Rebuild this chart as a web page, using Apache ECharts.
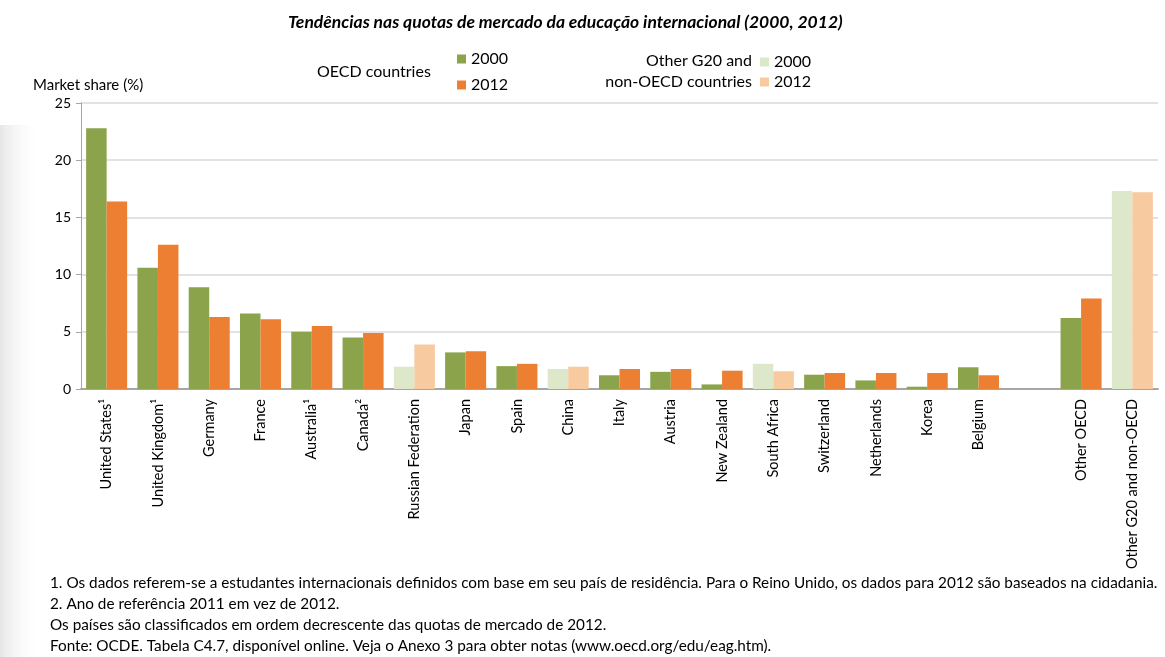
<!DOCTYPE html>
<html><head><meta charset="utf-8">
<script src="https://cdn.jsdelivr.net/npm/echarts@6/dist/echarts.min.js"></script>
<style>html,body{margin:0;padding:0;background:#fff}#c{width:1165px;height:657px}</style>
</head><body><div id="c"></div>
<script>
const categories = ['United States¹','United Kingdom¹','Germany','France','Australia¹','Canada²','Russian Federation','Japan','Spain','China','Italy','Austria','New Zealand','South Africa','Switzerland','Netherlands','Korea','Belgium','','Other OECD','Other G20 and non-OECD'];
const oecd2000  = [22.8,10.6,8.9,6.6,5.0,4.5,null,3.2,2.0,null,1.2,1.5,0.4,null,1.25,0.75,0.2,1.9,null,6.2,null];
const oecd2012  = [16.4,12.6,6.3,6.1,5.5,4.9,null,3.3,2.2,null,1.75,1.75,1.6,null,1.4,1.4,1.4,1.2,null,7.9,null];
const other2000 = [null,null,null,null,null,null,1.95,null,null,1.75,null,null,null,2.2,null,null,null,null,null,null,17.3];
const other2012 = [null,null,null,null,null,null,3.9,null,null,1.95,null,null,null,1.55,null,null,null,null,null,null,17.2];
const yTicks = [0,5,10,15,20,25];
const footnotes = [
  '1. Os dados referem-se a estudantes internacionais definidos com base em seu país de residência. Para o Reino Unido, os dados para 2012 são baseados na cidadania.',
  '2. Ano de referência 2011 em vez de 2012.',
  'Os países são classificados em ordem decrescente das quotas de mercado de 2012.',
  'Fonte: OCDE. Tabela C4.7, disponível online. Veja o Anexo 3 para obter notas (www.oecd.org/edu/eag.htm).'
];

const FONT = 'Lato';
const GREEN = '#8BA34B', ORANGE = '#EC7F32', LGREEN = '#DDE7C9', LORANGE = '#F8CA9F';
const chart = echarts.init(document.getElementById('c'), null, {renderer:'canvas'});
const barBase = {type:'bar', barGap:'0%', barCategoryGap:'20%'};
chart.setOption({
  animation:false,
  textStyle:{fontFamily:FONT, color:'#000'},
  title:{text:'Tendências nas quotas de mercado da educação internacional (2000, 2012)', left:283, top:8, itemGap:0,
    textStyle:{fontFamily:FONT, fontSize:17.5, fontWeight:'bold', fontStyle:'italic', color:'#000'}},
  legend:[
    {data:['OECD 2000','OECD 2012'], orient:'vertical', left:452, top:45, itemWidth:9, itemHeight:9, itemGap:8,
      icon:'rect', formatter:n=>n.slice(-4), textStyle:{fontFamily:FONT, fontSize:16, lineHeight:18, color:'#000'}, selectedMode:false},
    {data:['Other 2000','Other 2012'], orient:'vertical', left:755, top:48, itemWidth:9, itemHeight:9, itemGap:2,
      icon:'rect', formatter:n=>n.slice(-4), textStyle:{fontFamily:FONT, fontSize:16, lineHeight:18, color:'#000'}, selectedMode:false}
  ],
  grid:{left:81, right:7, top:103, bottom:268, containLabel:false},
  xAxis:{type:'category', data:categories,
    axisLine:{lineStyle:{color:'#A6A6A6', width:2}}, axisTick:{show:false},
    axisLabel:{rotate:90, interval:0, margin:10, fontSize:14.5, color:'#000', fontFamily:FONT}},
  yAxis:{type:'value', min:0, max:25, interval:5,
    name:'Market share (%)', nameLocation:'end', nameGap:10,
    nameTextStyle:{align:'left', padding:[0,0,0,-48], fontSize:15, color:'#000', fontFamily:FONT},
    axisLine:{show:true, lineStyle:{color:'#A6A6A6'}}, axisTick:{show:true, length:5, lineStyle:{color:'#A6A6A6'}},
    axisLabel:{fontSize:14, color:'#000', margin:10, fontFamily:FONT},
    splitLine:{lineStyle:{color:'#D9D9D9', width:1.5}}},
  series:[
    Object.assign({name:'OECD 2000', stack:'a', data:oecd2000, itemStyle:{color:GREEN}}, barBase),
    Object.assign({name:'Other 2000', stack:'a', data:other2000, itemStyle:{color:LGREEN}}, barBase),
    Object.assign({name:'OECD 2012', stack:'b', data:oecd2012, itemStyle:{color:ORANGE}}, barBase),
    Object.assign({name:'Other 2012', stack:'b', data:other2012, itemStyle:{color:LORANGE}}, barBase)
  ],
  graphic:[
    {type:'rect', left:0, top:125, z:-10, shape:{width:40, height:532},
      style:{fill:new echarts.graphic.LinearGradient(0,0,1,0,[{offset:0,color:'rgba(200,200,200,0.45)'},{offset:1,color:'rgba(255,255,255,0)'}])}},
    {type:'text', left:317, top:64, style:{text:'OECD countries', font:'16px '+FONT, fill:'#000'}},
    {type:'text', right:1165-752, top:53, style:{text:'Other G20 and', font:'16px '+FONT, fill:'#000', align:'right'}},
    {type:'text', right:1165-752, top:74, style:{text:'non-OECD countries', font:'16px '+FONT, fill:'#000', align:'right'}},
    {type:'text', left:50, top:573, style:{text:footnotes.join('\n'), font:'15.3px '+FONT, fill:'#000', lineHeight:21}}
  ]
});
</script></body></html>
